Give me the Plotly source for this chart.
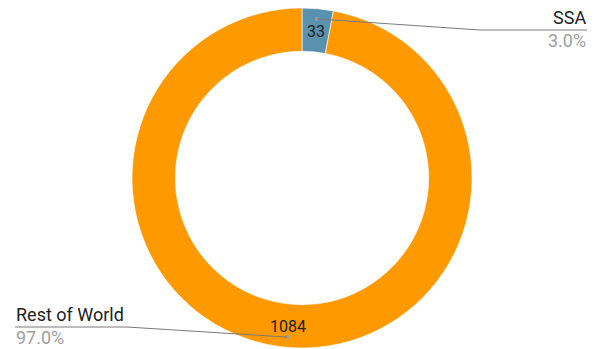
import math
import plotly.graph_objects as go

labels = ["SSA", "Rest of World"]
values = [33, 1084]
colors = ["#5A91AE", "#FF9900"]

W, H = 597, 349
CX, CY, R = 302, 178, 170
HOLE = 0.745

def px(x):
    return x / W

def py(y):
    return 1 - y / H

total = sum(values)
fig = go.Figure(go.Pie(
    labels=labels, values=values, hole=HOLE, sort=False, direction="clockwise",
    rotation=0, marker=dict(colors=colors, line=dict(color="white", width=0.6)),
    textinfo="none", hoverinfo="label+value+percent", showlegend=False,
    domain=dict(x=[px(CX - R), px(CX + R)], y=[py(CY + R), py(CY - R)]),
))

annotations = []
shapes = []
# label placement config (side, text anchor x, underline y)
label_cfg = [
    dict(side="right", tx=587, ly=30, lx_end=480),
    dict(side="left", tx=15, ly=327, lx_end=127),
]
cum = 0
rmid = R * (1 + HOLE) / 2
for lab, v, cfg in zip(labels, values, label_cfg):
    mid = (cum + v / 2) / total * 2 * math.pi
    cum += v
    sx, sy = math.sin(mid), -math.cos(mid)
    # value text in ring
    annotations.append(dict(x=px(CX + rmid * sx), y=py(CY + rmid * sy + 1), xref="paper", yref="paper",
                            text=str(v), showarrow=False, font=dict(family="Roboto", size=16, color="#212121"),
                            xanchor="center", yanchor="middle"))
    # dot
    dx, dy = CX + 0.94 * R * sx, CY + 0.94 * R * sy
    shapes.append(dict(type="circle", xref="paper", yref="paper",
                       x0=px(dx - 2), x1=px(dx + 2), y0=py(dy + 2), y1=py(dy - 2),
                       fillcolor="#9e9e9e", line=dict(width=0)))
    # leader line
    shapes.append(dict(type="path", xref="paper", yref="paper",
                       path=f"M {px(dx)} {py(dy)} L {px(cfg['lx_end'])} {py(cfg['ly'])} L {px(cfg['tx'])} {py(cfg['ly'])}",
                       line=dict(color="#7a7a7a", width=1)))
    anchor = "right" if cfg["side"] == "right" else "left"
    pct = f"{v / total * 100:.1f}%"
    annotations.append(dict(x=px(cfg["tx"]), y=py(cfg["ly"] - 1), xref="paper", yref="paper", text=lab,
                            showarrow=False, xanchor=anchor, yanchor="bottom", borderpad=0,
                            font=dict(family="Roboto", size=18, color="#212121")))
    annotations.append(dict(x=px(cfg["tx"]), y=py(cfg["ly"] - 1), xref="paper", yref="paper", text=pct,
                            showarrow=False, xanchor=anchor, yanchor="top", borderpad=0,
                            font=dict(family="Roboto", size=18, color="#9e9e9e")))

fig.update_layout(width=W, height=H, margin=dict(l=0, r=0, t=0, b=0),
                  paper_bgcolor="white", plot_bgcolor="white",
                  annotations=annotations, shapes=shapes)
fig.write_html("out.html")
